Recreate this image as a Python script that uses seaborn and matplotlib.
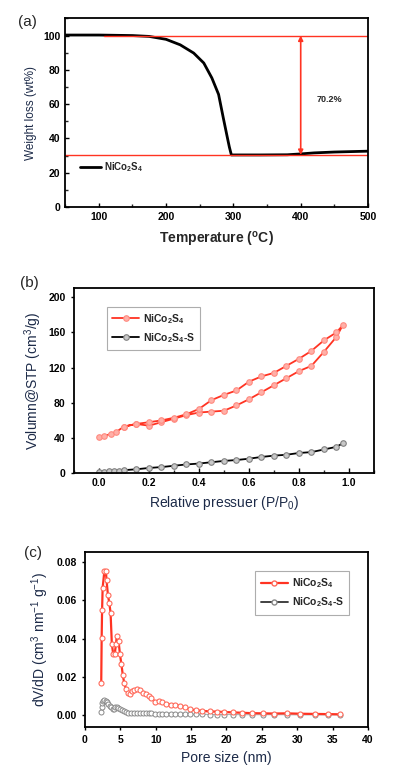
import matplotlib
matplotlib.use("Agg")
import matplotlib.pyplot as plt
import seaborn as sns
from matplotlib.lines import Line2D
from matplotlib.ticker import MultipleLocator

# (a) TGA curve
tga_temp = [50, 100, 150, 175, 200, 221, 241, 256, 268, 278, 285, 291, 294, 297,
            310, 340, 380, 400, 420, 450, 480, 500]
tga_weight = [100.3, 100.3, 100.0, 99.5, 97.8, 94.6, 89.8, 84.0, 75.3, 65.7, 52.0,
              40.6, 35.0, 30.4, 30.4, 30.4, 30.5, 31.0, 31.6, 32.1, 32.4, 32.6]
loss_label = "70.2%"

# (b) N2 isotherm, adsorption then desorption for NiCo2S4
iso_p = [0.0, 0.02, 0.05, 0.07, 0.1, 0.15, 0.2, 0.25, 0.3, 0.35, 0.4, 0.45, 0.5,
         0.55, 0.6, 0.65, 0.7, 0.75, 0.8, 0.85, 0.9, 0.95, 0.975,
         0.95, 0.9, 0.85, 0.8, 0.75, 0.7, 0.65, 0.6, 0.55, 0.5, 0.45, 0.4,
         0.35, 0.3, 0.25, 0.2, 0.15, 0.1]
iso_v = [41, 42, 45, 47, 53, 56, 54, 58, 62, 66, 69, 70, 71,
         77, 84, 92, 100, 108, 116, 122, 138, 155, 168,
         160, 151, 139, 130, 122, 114, 110, 104, 94, 89, 83, 73,
         67, 63, 60, 58, 56, 53]
iso_p_s = [0.0, 0.02, 0.04, 0.06, 0.08, 0.1, 0.15, 0.2, 0.25, 0.3, 0.35, 0.4, 0.45,
           0.5, 0.55, 0.6, 0.65, 0.7, 0.75, 0.8, 0.85, 0.9, 0.95, 0.975]
iso_v_s = [1, 1.5, 2, 2.5, 3, 3.5, 4.5, 6, 7, 8.5, 10, 11, 12.5,
           14, 15, 16.5, 18.5, 20, 21, 23, 24, 27, 30, 34]

# (c) pore size distribution
pore_d = [2.3, 2.36, 2.42, 2.5, 2.75, 2.95, 3.05, 3.25, 3.45, 3.62, 3.8, 4.0, 4.2,
          4.38, 4.5, 4.75, 4.95, 5.15, 5.35, 5.55, 5.8, 6.1, 6.4, 6.7, 7.0, 7.4,
          7.8, 8.2, 8.6, 9.0, 9.4, 9.9, 10.4, 10.9, 11.5, 12.1, 12.7, 13.4, 14.1,
          14.9, 15.7, 16.6, 17.6, 18.6, 19.7, 20.9, 22.2, 23.6, 25.1, 26.7, 28.5,
          30.4, 32.5, 34.3, 36.0]
pore_dv = [0.0169, 0.0404, 0.0549, 0.0667, 0.0755, 0.0755, 0.0706, 0.0627, 0.0584,
           0.0535, 0.0371, 0.0317, 0.0317, 0.0371, 0.0413, 0.0387, 0.0317, 0.0266,
           0.0209, 0.0167, 0.0135, 0.0118, 0.0110, 0.0125, 0.0132, 0.0135, 0.0130,
           0.0118, 0.0112, 0.0100, 0.0088, 0.0070, 0.0075, 0.0068, 0.0060, 0.0055,
           0.0052, 0.0048, 0.0040, 0.0030, 0.0025, 0.0022, 0.0019, 0.0018, 0.0016,
           0.0014, 0.0012, 0.0010, 0.0009, 0.0008, 0.0009, 0.0007, 0.0006, 0.0005,
           0.0004]
pore_d_s = [2.25, 2.36, 2.42, 2.55, 2.75, 2.95, 3.1, 3.3, 3.5, 3.7, 3.9, 4.1, 4.3,
            4.5, 4.7, 4.9, 5.2, 5.5, 5.8, 6.1, 6.5, 7.0, 7.4, 7.8, 8.2, 8.6, 9.0,
            9.4, 9.9, 10.4, 10.9, 11.5, 12.1, 12.7, 13.4, 14.1, 14.9, 15.7, 16.6,
            17.6, 18.6, 19.7, 20.9, 22.2, 23.6, 25.1, 26.7, 28.5, 30.4, 32.5, 34.3,
            36.0]
pore_dv_s = [0.0015, 0.0044, 0.0064, 0.0075, 0.0078, 0.0072, 0.0066, 0.0058, 0.0050,
             0.0040, 0.0033, 0.0032, 0.0040, 0.0042, 0.0036, 0.0030, 0.0024, 0.0019,
             0.0015, 0.0013, 0.0012, 0.0011, 0.0011, 0.0011, 0.0010, 0.0010, 0.0009,
             0.0009, 0.0008, 0.0008, 0.0007, 0.0007, 0.0006, 0.0006, 0.0005, 0.0005,
             0.0004, 0.0004, 0.0004, 0.0003, 0.0003, 0.0003, 0.0003, 0.0002, 0.0002,
             0.0002, 0.0002, 0.0002, 0.0001, 0.0001, 0.0001, 0.0001]

LBL_A = r"NiCo$_\mathbf{2}$S$_\mathbf{4}$"
LBL_S = r"NiCo$_\mathbf{2}$S$_\mathbf{4}$-S"

sns.set_style("ticks")
plt.rcParams["font.family"] = ["Liberation Sans", "DejaVu Sans"]
plt.rcParams["mathtext.fontset"] = "custom"
plt.rcParams["mathtext.rm"] = "Liberation Sans"
plt.rcParams["mathtext.bf"] = "Liberation Sans:bold"
plt.rcParams["axes.linewidth"] = 1.3

RED = "#ff3322"
NAVY = "#1c2a48"
LEG_FONT = {"weight": "bold", "size": 7.5}

fig = plt.figure(figsize=(3.97, 7.67), dpi=100)


def style_axis(ax):
    for sp in ax.spines.values():
        sp.set_color("black")
        sp.set_linewidth(1.3)
    for lab in ax.get_xticklabels() + ax.get_yticklabels():
        lab.set_fontweight("bold")
    ax.tick_params(labelsize=7.5, colors="black")


# ---- (a) ----
ax1 = fig.add_axes([0.164, 0.730, 0.763, 0.246])
sns.lineplot(x=tga_temp, y=tga_weight, estimator=None, sort=False, color="black",
             lw=2, ax=ax1, label=LBL_A)
ax1.axhline(100, xmin=0.13, xmax=1, color=RED, lw=1)
ax1.axhline(30.4, color=RED, lw=1)
ax1.annotate("", xy=(400, 100), xytext=(400, 30.4),
             arrowprops=dict(arrowstyle="<|-|>", color=RED, lw=1.2, mutation_scale=7,
                             shrinkA=0, shrinkB=0))
ax1.text(443, 63, loss_label, fontsize=6.5, fontweight="bold", ha="center", va="center")
ax1.set_xlim(50, 500)
ax1.set_ylim(0, 110)
ax1.set_xticks([100, 200, 300, 400, 500])
ax1.set_yticks([0, 20, 40, 60, 80, 100])
ax1.xaxis.set_minor_locator(MultipleLocator(50))
ax1.yaxis.set_minor_locator(MultipleLocator(10))
ax1.tick_params(which="both", direction="in", width=1)
ax1.tick_params(which="major", length=3)
ax1.tick_params(which="minor", length=2)
ax1.set_xlabel("Temperature ($\\mathbf{^oC}$)", fontsize=10, fontweight="bold", labelpad=6)
ax1.set_ylabel("Weight loss (wt%)", fontsize=8.5, color=NAVY, labelpad=4)
ax1.legend(handles=ax1.get_lines()[:1], labels=[LBL_A], loc="center left",
           bbox_to_anchor=(0.02, 0.21), frameon=False, prop={"weight": "bold", "size": 7},
           handlelength=2.2, handletextpad=0.3)
style_axis(ax1)
fig.text(0.07, 0.971, "(a)", fontsize=11, ha="center", va="center")

# ---- (b) ----
ax2 = fig.add_axes([0.186, 0.383, 0.756, 0.241])
sns.lineplot(x=iso_p, y=iso_v, estimator=None, sort=False, color=RED, lw=1.3,
             marker="o", markersize=4, markerfacecolor="#ffb0a8",
             markeredgecolor="#ff8a80", markeredgewidth=0.8, ax=ax2, label=LBL_A)
sns.lineplot(x=iso_p_s, y=iso_v_s, estimator=None, sort=False, color="black", lw=1.3,
             marker="o", markersize=4, markerfacecolor="#c8c8c8",
             markeredgecolor="#808080", markeredgewidth=0.8, ax=ax2, label=LBL_S)
ax2.set_xlim(-0.1, 1.1)
ax2.set_ylim(0, 210)
ax2.set_xticks([0.0, 0.2, 0.4, 0.6, 0.8, 1.0])
ax2.set_xticklabels(["0.0", "0.2", "0.4", "0.6", "0.8", "1.0"])
ax2.set_yticks([0, 40, 80, 120, 160, 200])
ax2.xaxis.set_minor_locator(MultipleLocator(0.1))
ax2.tick_params(axis="x", which="both", direction="in", width=1)
ax2.tick_params(axis="x", which="minor", length=2)
ax2.tick_params(axis="y", direction="out", width=1, length=2.5)
ax2.set_xlabel("Relative pressuer (P/P$_0$)", fontsize=10, color=NAVY, labelpad=4)
ax2.set_ylabel("Volumn@STP (cm$^3$/g)", fontsize=10, color=NAVY, labelpad=3)
leg2 = ax2.legend(loc="upper left", bbox_to_anchor=(0.11, 0.9), borderaxespad=0,
                  prop=LEG_FONT, frameon=True, fancybox=False, handlelength=2.6,
                  handletextpad=0.4, borderpad=0.5, labelspacing=0.5)
leg2.get_frame().set_edgecolor("#999999")
leg2.get_frame().set_linewidth(0.8)
style_axis(ax2)
fig.text(0.075, 0.631, "(b)", fontsize=11, ha="center", va="center")

# ---- (c) ----
ax3 = fig.add_axes([0.214, 0.052, 0.713, 0.228])
sns.lineplot(x=pore_d_s, y=pore_dv_s, estimator=None, sort=False, color="#b0b0b0",
             lw=0.8, marker="o", markersize=3.6, markerfacecolor="white",
             markeredgecolor="#888888", markeredgewidth=0.7, ax=ax3)
sns.lineplot(x=pore_d, y=pore_dv, estimator=None, sort=False, color=RED, lw=1.6,
             marker="o", markersize=3.6, markerfacecolor="white",
             markeredgecolor="#ff6a5a", markeredgewidth=0.8, ax=ax3)
ax3.set_xlim(0, 40)
ax3.set_ylim(-0.0063, 0.0852)
ax3.set_xticks(list(range(0, 45, 5)))
ax3.set_yticks([0.0, 0.02, 0.04, 0.06, 0.08])
ax3.set_yticklabels(["0.00", "0.02", "0.04", "0.06", "0.08"])
ax3.tick_params(direction="out", width=1, length=2.5)
ax3.set_xlabel("Pore size (nm)", fontsize=10, color=NAVY, labelpad=4)
ax3.set_ylabel("dV/dD (cm$^3$ nm$^{-1}$ g$^{-1}$)", fontsize=10, color=NAVY, labelpad=4)
red_proxy = Line2D([], [], color=RED, lw=1.6, marker="o", markersize=3.6,
                   markerfacecolor="white", markeredgecolor="#ff6a5a")
gray_proxy = Line2D([], [], color="#333333", lw=1.3, marker="o", markersize=3.6,
                    markerfacecolor="white", markeredgecolor="#888888")
leg3 = ax3.legend(handles=[red_proxy, gray_proxy], labels=[LBL_A, LBL_S],
                  loc="upper right", bbox_to_anchor=(0.933, 0.891), borderaxespad=0,
                  prop=LEG_FONT, frameon=True, fancybox=False, handlelength=2.6,
                  handletextpad=0.4, borderpad=0.5, labelspacing=0.5)
leg3.get_frame().set_edgecolor("#999999")
leg3.get_frame().set_linewidth(0.8)
style_axis(ax3)
fig.text(0.083, 0.279, "(c)", fontsize=11, ha="center", va="center")

fig.savefig("out.png", dpi=100)
